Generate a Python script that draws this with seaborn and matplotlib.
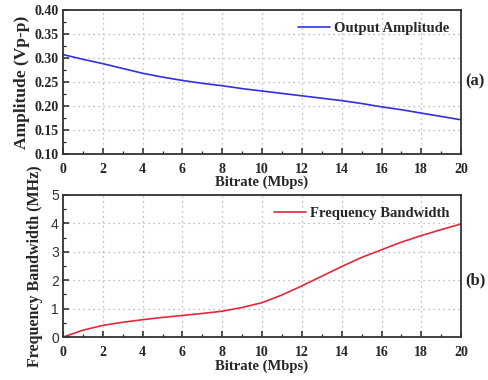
import matplotlib
matplotlib.use("Agg")
import matplotlib.pyplot as plt
import seaborn as sns
import pandas as pd
from matplotlib.ticker import MultipleLocator

bitrate = [0, 1, 2, 3, 4, 5, 6, 7, 8, 9, 10, 11, 12, 13, 14, 15, 16, 17, 18, 19, 20]
amplitude = [0.307, 0.297, 0.288, 0.278, 0.268, 0.260, 0.253, 0.247, 0.242, 0.236, 0.231,
             0.226, 0.221, 0.216, 0.211, 0.205, 0.198, 0.192, 0.185, 0.178, 0.171]
bandwidth = [0.0, 0.24, 0.41, 0.52, 0.61, 0.69, 0.76, 0.83, 0.91, 1.04, 1.21,
             1.48, 1.80, 2.14, 2.48, 2.80, 3.07, 3.34, 3.57, 3.78, 3.98]
xticks = [0, 2, 4, 6, 8, 10, 12, 14, 16, 18, 20]
amp_ticks = [0.10, 0.15, 0.20, 0.25, 0.30, 0.35, 0.40]
bw_ticks = [0, 1, 2, 3, 4, 5]

df = pd.DataFrame({"bitrate": bitrate, "amp": amplitude, "bw": bandwidth})

sns.set_style("ticks")
plt.rcParams['font.family'] = ['Liberation Serif', 'DejaVu Serif']

fig = plt.figure(figsize=(4.88, 3.8), dpi=100)
ax1 = fig.add_axes([0.129, 0.595, 0.816, 0.379])
ax2 = fig.add_axes([0.129, 0.113, 0.816, 0.374])

sns.lineplot(data=df, x="bitrate", y="amp", ax=ax1, color="#3030e0", lw=1.2,
             label="Output Amplitude")
sns.lineplot(data=df, x="bitrate", y="bw", ax=ax2, color="#e3283a", lw=1.2,
             label="Frequency Bandwidth")

for ax in (ax1, ax2):
    ax.set_xlim(0, 20)
    ax.set_xticks(xticks)
    ax.xaxis.set_minor_locator(MultipleLocator(1))
    ax.grid(True, which="major", ls=(0, (1, 3)), color="#aaaaaa", lw=0.9)
    for s in ax.spines.values():
        s.set_linewidth(1.3)
        s.set_color("#333333")
    ax.tick_params(which="major", direction="in", length=4, width=1.1, labelsize=10,
                   top=False, right=False, pad=3)
    ax.tick_params(axis="x", which="major", pad=6.5)
    ax.tick_params(which="minor", direction="in", length=2.5, width=0.9)
    for t in ax.get_xticklabels():
        t.set_fontweight("bold")
    ax.set_xlabel("Bitrate (Mbps)", fontsize=10.5, fontweight="bold", labelpad=0)
    ax.legend(loc="upper right", frameon=False,
              prop={"family": "Liberation Serif", "weight": "bold", "size": 10.5},
              handlelength=2.2, handletextpad=0.3, borderaxespad=0.4)

ax1.set_ylim(0.10, 0.40)
ax1.set_yticks(amp_ticks)
ax1.set_yticklabels([f"{v:.2f}" for v in amp_ticks])
ax1.yaxis.set_minor_locator(MultipleLocator(0.025))
for t in ax1.get_yticklabels():
    t.set_fontweight("bold")
ax1.set_ylabel("Amplitude (Vp-p)", fontsize=12.5, fontweight="bold", labelpad=3)

ax2.set_ylim(0, 5)
ax2.set_yticks(bw_ticks)
ax2.yaxis.set_minor_locator(MultipleLocator(0.5))
for t in ax2.get_yticklabels():
    t.set_fontfamily("Liberation Sans")
    t.set_color("#333333")
ax2.set_ylabel("Frequency Bandwidth (MHz)", fontsize=11.5, fontweight="bold", labelpad=6)

fig.text(0.953, 0.785, "(a)", fontsize=12, fontweight="bold", va="center")
fig.text(0.953, 0.262, "(b)", fontsize=12, fontweight="bold", va="center")

fig.savefig("out.png", dpi=100)
